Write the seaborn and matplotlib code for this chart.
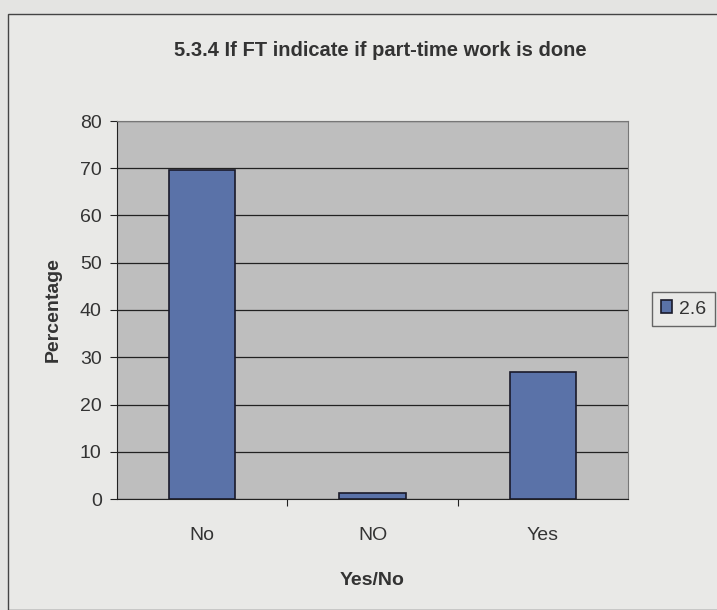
import matplotlib
matplotlib.use("Agg")
import matplotlib.pyplot as plt
import seaborn as sns
import pandas as pd
from matplotlib.patches import Rectangle

# chart data
categories = ["No", "NO", "Yes"]
percentages = [69.6, 1.3, 26.8]
series_name = "2.6"

df = pd.DataFrame({"answer": categories, "pct": percentages, "series": series_name})

sns.set_style("white")
plt.rcParams['font.family'] = ['Liberation Sans', 'DejaVu Sans']

fig = plt.figure(figsize=(7.17, 6.10), dpi=100)
fig.patch.set_facecolor("#e4e4e2")

# chart area border (Excel style), kept behind the axes
border = Rectangle((8 / 717, 0), 1.0, 1 - 14 / 610, transform=fig.transFigure,
                   facecolor="#e9e9e7", edgecolor="#444444", linewidth=1.0, zorder=-10)
fig.patches.append(border)

ax = fig.add_axes([117 / 717, 1 - 499 / 610, 511 / 717, 378 / 610])
ax.set_zorder(1)
ax.set_facecolor("#bebebe")

sns.barplot(data=df, x="answer", y="pct", hue="series", palette=["#4d6db5"],
            width=0.39, edgecolor="#1a1a2a", linewidth=1.2, ax=ax, zorder=3)

ax.set_ylim(0, 80)
ax.set_xlim(-0.5, 2.5)
ax.set_yticks(range(0, 81, 10))
ax.yaxis.grid(True, color="#222222", linewidth=0.9)
ax.set_axisbelow(True)
for side in ["top", "right", "left", "bottom"]:
    ax.spines[side].set_visible(True)
    ax.spines[side].set_color("#777777")
ax.spines["left"].set_color("#222222")
ax.spines["bottom"].set_color("#222222")

# tick marks between categories, labels at centres
ax.set_xticks([0.5, 1.5], minor=False)
ax.set_xticklabels([])
ax.set_xticks([0, 1, 2], minor=True)
ax.set_xticklabels(categories, minor=True, fontsize=14, color="#333333")
ax.tick_params(axis="x", which="minor", length=0, pad=20)
ax.tick_params(axis="x", which="major", length=5, direction="out", bottom=True, color="#222222")
ax.tick_params(axis="y", length=5, direction="out", left=True, labelsize=14,
               labelcolor="#333333", color="#222222", pad=6)

ax.set_xlabel("Yes/No", fontsize=14, fontweight="bold", color="#333333", labelpad=20)
ax.set_ylabel("Percentage", fontsize=14, fontweight="bold", color="#333333", labelpad=13)

fig.text(380 / 717, 1 - 50 / 610, "5.3.4 If FT indicate if part-time work is done",
         ha="center", va="center", fontsize=14.5, fontweight="bold", color="#333333")

leg = ax.legend(loc="center left", bbox_to_anchor=(652 / 717, 1 - 309 / 610),
                bbox_transform=fig.transFigure, frameon=True, fontsize=14,
                handlelength=0.6, handleheight=0.6, handletextpad=0.35,
                borderpad=0.45, borderaxespad=0, fancybox=False)
leg.get_frame().set_edgecolor("#444444")
leg.get_frame().set_facecolor("#e9e9e7")
for t in leg.get_texts():
    t.set_color("#333333")

fig.savefig("out.png", dpi=100, facecolor=fig.get_facecolor())
